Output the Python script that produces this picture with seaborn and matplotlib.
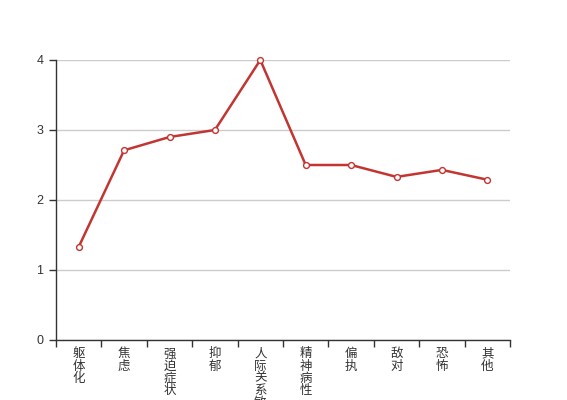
import numpy as np
import pandas as pd
import matplotlib
matplotlib.use("Agg")
import matplotlib.pyplot as plt
import seaborn as sns

categories = ["躯体化", "焦虑", "强迫症状", "抑郁", "人际关系敏感", "精神病性", "偏执", "敌对", "恐怖", "其他"]
values = [1.33, 2.71, 2.9, 3.0, 4.0, 2.5, 2.5, 2.33, 2.43, 2.29]
y_ticks = [0, 1, 2, 3, 4]

sns.set_theme(style="white")
plt.rcParams['font.family'] = ['Liberation Sans', 'Noto Sans CJK SC', 'DejaVu Sans']

df = pd.DataFrame({"pos": np.arange(len(categories)), "value": values, "cat": categories})

fig = plt.figure(figsize=(5.67, 4.0), dpi=100)
ax = fig.add_axes([56/567, 60/400, 454/567, 280/400])

line_color = "#c23531"
sns.lineplot(data=df, x="pos", y="value", ax=ax, color=line_color, linewidth=1.8,
             marker="o", markersize=4.2, markerfacecolor="white",
             markeredgecolor=line_color, markeredgewidth=1, zorder=5, clip_on=False)

ax.set_xlim(-0.5, len(categories) - 0.5)
ax.set_ylim(0, 4)
ax.set_yticks(y_ticks)
ax.set_yticklabels([str(t) for t in y_ticks])

# boundary ticks (major), labels at centres (minor)
ax.set_xticks(np.arange(-0.5, len(categories), 1.0))
ax.set_xticklabels([])
ax.set_xticks(np.arange(len(categories)), minor=True)
ax.set_xticklabels(["\n".join(c) for c in categories], minor=True,
                   fontsize=9, color="#333333", linespacing=1.02, va="top")
ax.tick_params(axis="x", which="major", bottom=True, length=5, width=1, color="#333333", direction="out")
ax.tick_params(axis="x", which="minor", bottom=True, length=0, pad=6)
ax.tick_params(axis="y", which="major", left=True, length=5, width=1, color="#333333",
               labelsize=9, labelcolor="#333333", pad=4, direction="out")

ax.grid(axis="y", color="#cccccc", linewidth=1)
ax.grid(axis="x", visible=False)
for s in ["top", "right"]:
    ax.spines[s].set_visible(False)
for s in ["left", "bottom"]:
    ax.spines[s].set_color("#333333")
    ax.spines[s].set_linewidth(1)
ax.set_xlabel("")
ax.set_ylabel("")

fig.savefig("out.png", dpi=100)
